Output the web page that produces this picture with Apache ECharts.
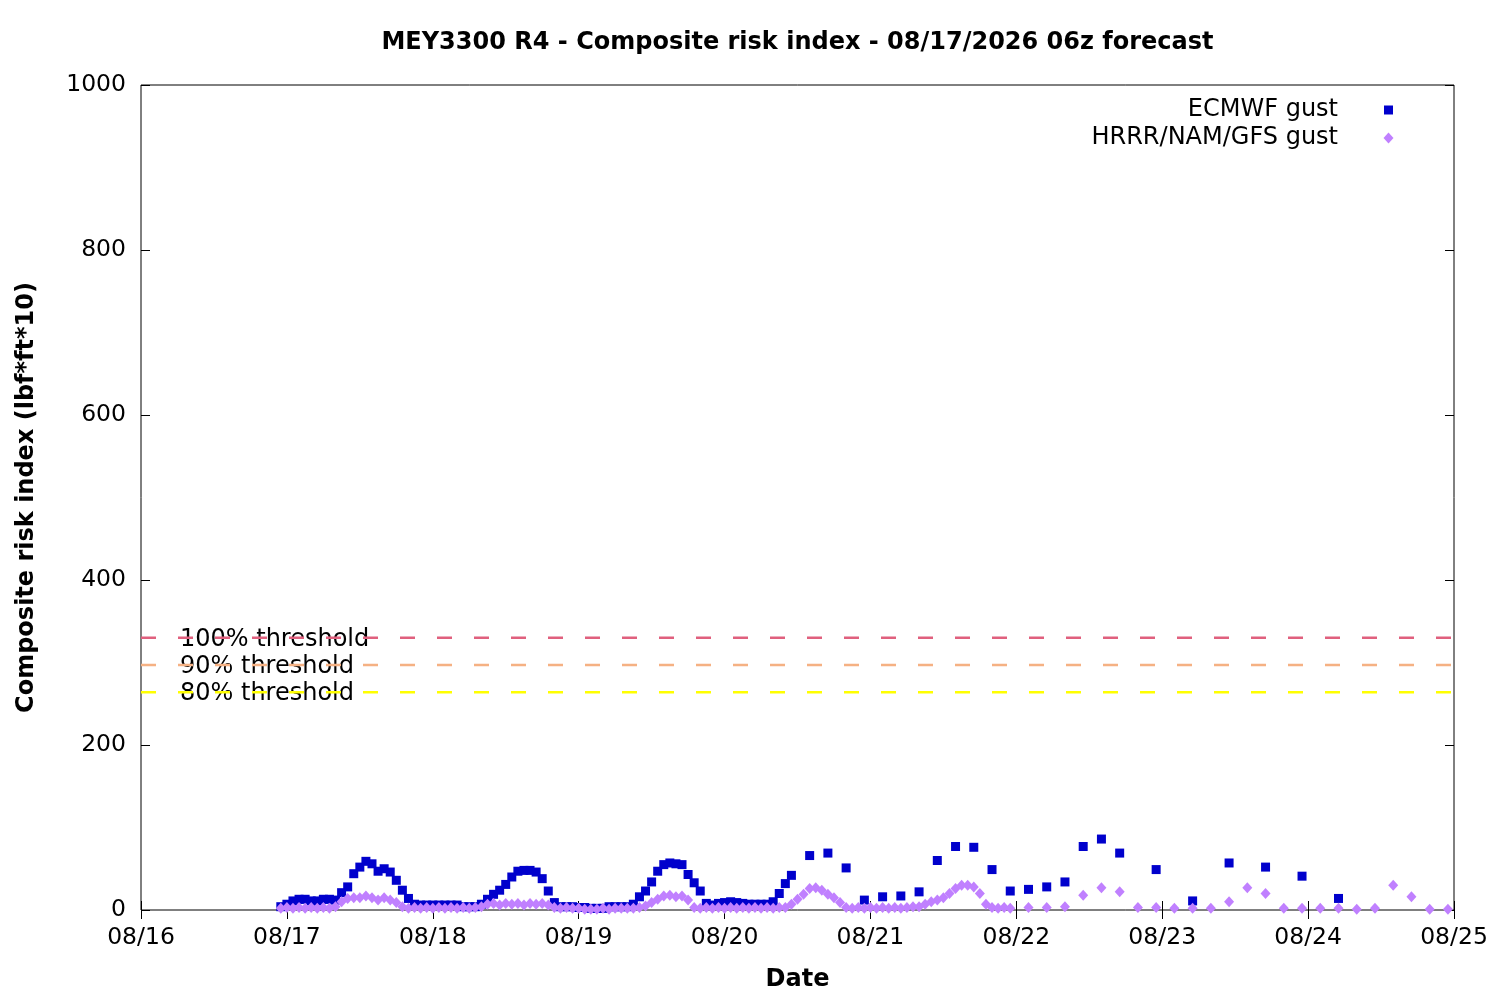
<!DOCTYPE html>
<html>
<head>
<meta charset="utf-8">
<title>MEY3300 R4 - Composite risk index</title>
<script src="https://cdn.jsdelivr.net/npm/echarts@6/dist/echarts.min.js"></script>
<style>
html, body { margin: 0; padding: 0; background: #fff; }
#chart { width: 1500px; height: 1000px; }
</style>
</head>
<body>
<div id="chart"></div>
<script>
var HOUR = 3600000, DAY = 24 * HOUR;
var xStart = Date.UTC(2026, 7, 16), xEnd = Date.UTC(2026, 7, 25);

// ECMWF gust: hourly, then 3-hourly, then 6-hourly
var ecmwfHourlyStart = Date.UTC(2026, 7, 16, 23);
var ecmwfHourly = [4, 7, 11, 13, 13, 11, 11, 13, 13, 12, 21, 28, 44, 52, 59, 56, 47, 50, 46, 36, 24, 14, 7, 6, 6, 6, 6, 6, 6, 6,
    4, 4, 4, 7, 13, 19, 24, 31, 40, 47, 48, 48, 46, 38, 23, 9, 4, 4, 4, 3, 3, 2, 2, 2, 4, 4, 4, 4, 7, 16,
    23, 34, 47, 55, 57, 56, 55, 43, 33, 23, 8, 6, 8, 9, 10, 9, 8, 7, 7, 7, 7, 10, 20, 32, 42];
var ecmwf3hStart = Date.UTC(2026, 7, 20, 14);
var ecmwf3h = [66, 69, 51, 12, 16, 17, 22, 60, 77, 76, 49, 23, 25, 28, 34, 77, 86, 69];
var ecmwf6hStart = Date.UTC(2026, 7, 22, 23);
var ecmwf6h = [49, 11, 57, 52, 41, 14];

// HRRR/NAM/GFS gust: hourly, then 3-hourly
var gfsHourlyStart = Date.UTC(2026, 7, 16, 23);
var gfsHourly = [2, 3, 2, 3, 2, 3, 2, 3, 2, 4,
    10, 14, 15, 15, 17, 15, 12, 15, 12, 9, 4, 2,
    3, 2, 3, 2, 3, 2, 3, 2, 3, 2, 3, 4,
    7, 8, 6, 8, 7, 8, 6, 8, 7, 8, 6,
    3, 2, 3, 2, 2, 1, 1, 1, 2, 1, 2, 2, 2, 2, 3,
    5, 9, 13, 17, 18, 16, 17, 12,
    3, 2, 3, 2, 3, 2, 3, 2, 3, 2, 3, 2, 3, 2, 3, 3,
    7, 13, 19, 26, 27, 24, 19, 15, 9, 3,
    2, 3, 2, 3, 2, 3, 2, 3, 2, 3, 4,
    4, 7, 10, 12, 15, 20, 26, 30, 30, 28, 20, 7, 3, 2, 3, 2];
var gfs3hStart = Date.UTC(2026, 7, 22, 2);
var gfs3h = [3, 3, 4, 18, 27, 22, 3, 3, 2, 2, 2, 10, 27, 20, 2, 2, 2, 2, 1, 2, 30, 16, 1, 1];

// thresholds
var thresholdNames = ['100% threshold', '90% threshold', '80% threshold'];
var thresholdValues = [330, 297, 264];
var thresholdColors = ['#e0607e', '#f5b183', '#ffff00'];

var seriesNames = ['ECMWF gust', 'HRRR/NAM/GFS gust'];
var FONT = 'DejaVu Sans';
var TXT = '24px "DejaVu Sans"';

function build(start, stepHours, vals) {
    return vals.map(function (v, i) { return [start + i * stepHours * HOUR, v]; });
}
function pad(n) { return (n < 10 ? '0' : '') + n; }

var ecmwfData = build(ecmwfHourlyStart, 1, ecmwfHourly)
    .concat(build(ecmwf3hStart, 3, ecmwf3h))
    .concat(build(ecmwf6hStart, 6, ecmwf6h));
var gfsData = build(gfsHourlyStart, 1, gfsHourly)
    .concat(build(gfs3hStart, 3, gfs3h));

var chart = echarts.init(document.getElementById('chart'));

var series = [];
// dashed threshold lines, drawn on a layer above the labels
thresholdValues.forEach(function (t, i) {
    series.push({
        type: 'line',
        zlevel: 1,
        symbol: 'none',
        silent: true,
        data: [[xStart, t], [xEnd, t]],
        lineStyle: { color: thresholdColors[i], width: 2.5, type: [15, 22] }
    });
});
series.push({
    name: seriesNames[0],
    type: 'scatter',
    z: 4,
    symbol: 'rect',
    symbolSize: 9,
    itemStyle: { color: '#0000cc', opacity: 1 },
    data: ecmwfData
});
series.push({
    name: seriesNames[1],
    type: 'scatter',
    z: 5,
    symbol: 'diamond',
    symbolSize: [10, 11],
    itemStyle: { color: '#c080ff', opacity: 1 },
    data: gfsData
});

var tickStyle = { show: true, inside: true, length: 9, lineStyle: { color: '#000', width: 1 } };

var graphics = [
    {
        type: 'text', x: 797.5, y: 43,
        style: {
            text: 'MEY3300 R4 - Composite risk index - 08/17/2026 06z forecast',
            fill: '#000', font: 'bold 24px "DejaVu Sans"',
            align: 'center', verticalAlign: 'middle'
        }
    },
    {
        type: 'text', x: 1338, y: 110,
        style: { text: seriesNames[0], fill: '#000', font: TXT, align: 'right', verticalAlign: 'middle' }
    },
    {
        type: 'text', x: 1338, y: 138,
        style: { text: seriesNames[1], fill: '#000', font: TXT, align: 'right', verticalAlign: 'middle' }
    },
    {
        type: 'rect', shape: { x: 1384, y: 105.5, width: 9, height: 9 },
        style: { fill: '#0000cc' }
    },
    {
        type: 'polygon', shape: { points: [[1388.5, 132.5], [1393.5, 138], [1388.5, 143.5], [1383.5, 138]] },
        style: { fill: '#c080ff' }
    }
];

chart.setOption({
    animation: false,
    backgroundColor: '#fff',
    grid: { left: 141, right: 46, top: 85, bottom: 90, show: true, borderColor: '#000', borderWidth: 1 },
    xAxis: [{
        type: 'value',
        min: xStart, max: xEnd, interval: DAY,
        name: 'Date', nameLocation: 'middle', nameGap: 58,
        nameTextStyle: { fontFamily: FONT, fontSize: 24, fontWeight: 'bold', color: '#000' },
        axisLine: { show: false },
        axisTick: tickStyle,
        splitLine: { show: false },
        axisLabel: {
            margin: 16, color: '#000', fontFamily: FONT, fontSize: 23.5,
            showMinLabel: true, showMaxLabel: true,
            formatter: function (v) {
                var d = new Date(v);
                return pad(d.getUTCMonth() + 1) + '/' + pad(d.getUTCDate());
            }
        }
    }, {
        type: 'value', position: 'top',
        min: xStart, max: xEnd, interval: DAY,
        axisLine: { show: false }, axisTick: tickStyle,
        axisLabel: { show: false }, splitLine: { show: false }
    }],
    yAxis: [{
        type: 'value',
        min: 0, max: 1000, interval: 200,
        name: 'Composite risk index (lbf*ft*10)', nameLocation: 'middle', nameGap: 102,
        nameTextStyle: { fontFamily: FONT, fontSize: 24, fontWeight: 'bold', color: '#000' },
        axisLine: { show: false },
        axisTick: tickStyle,
        splitLine: { show: false },
        axisLabel: {
            margin: 15, color: '#000', fontFamily: FONT, fontSize: 23.5,
            formatter: function (v) { return String(v); }
        }
    }, {
        type: 'value', position: 'right',
        min: 0, max: 1000, interval: 200,
        axisLine: { show: false }, axisTick: tickStyle,
        axisLabel: { show: false }, splitLine: { show: false }
    }],
    series: series,
    graphic: graphics
});

// threshold labels, placed through the axis scale
thresholdValues.forEach(function (t, i) {
    var p = chart.convertToPixel({ gridIndex: 0 }, [xStart, t]);
    graphics.push({
        type: 'text', x: p[0] + 39, y: p[1] + 2,
        style: { text: thresholdNames[i], fill: '#000', font: TXT, align: 'left', verticalAlign: 'middle' }
    });
});
chart.setOption({ graphic: graphics });
</script>
</body>
</html>
